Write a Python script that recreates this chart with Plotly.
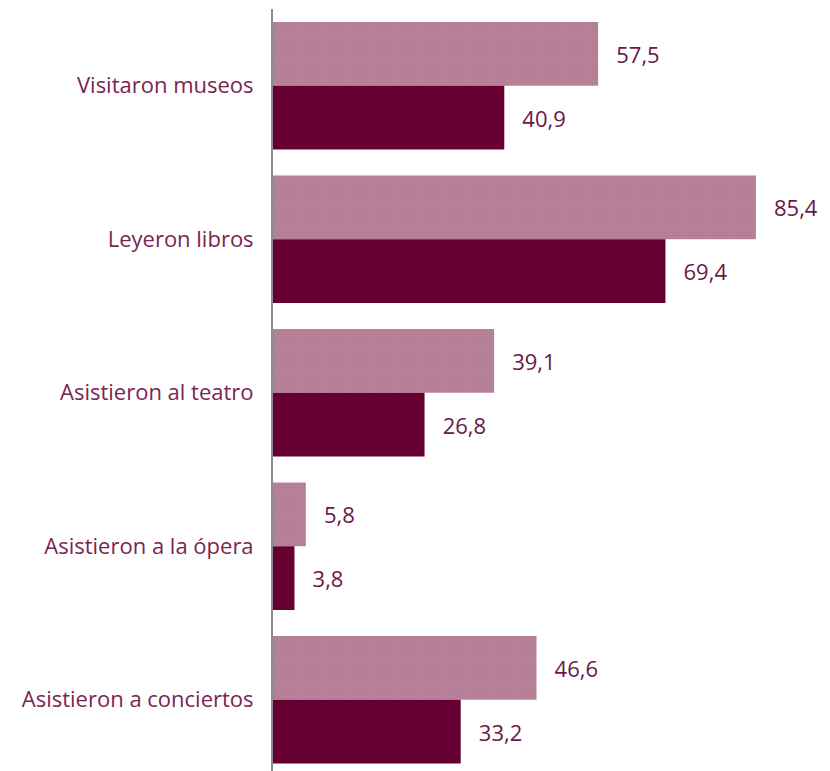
import plotly.graph_objects as go

categories = ["Visitaron museos", "Leyeron libros", "Asistieron al teatro",
              "Asistieron a la ópera", "Asistieron a conciertos"]
serie_clara = [57.5, 85.4, 39.1, 5.8, 46.6]
serie_oscura = [40.9, 69.4, 26.8, 3.8, 33.2]

label_color = "#7a2552"
value_color = "#6b1848"
font_family = "'Open Sans', Lato, sans-serif"

fig = go.Figure()
fig.add_trace(go.Bar(
  y=categories, x=serie_clara, orientation="h",
  marker=dict(color="#b8839c", line=dict(width=0),
              pattern=dict(shape=".", fgcolor="#a66f88", size=3, solidity=0.4)),
  texttemplate="\u00a0\u00a0\u2009%{x:.1f}", textposition="outside",
  textfont=dict(color=value_color, size=22, family=font_family),
  cliponaxis=False, showlegend=False,
))
fig.add_trace(go.Bar(
  y=categories, x=serie_oscura, orientation="h",
  marker=dict(color="#660033", line=dict(width=0)),
  texttemplate="\u00a0\u00a0\u2009%{x:.1f}", textposition="outside",
  textfont=dict(color=value_color, size=22, family=font_family),
  cliponaxis=False, showlegend=False,
))

fig.update_layout(
  width=830, height=771,
  margin=dict(l=265, r=8, t=1, b=8, autoexpand=False),
  barmode="group", bargap=0.17, bargroupgap=0,
  separators=",.",
  plot_bgcolor="white", paper_bgcolor="white",
  xaxis=dict(range=[0, 98.5], visible=False, showgrid=False, zeroline=False),
  yaxis=dict(range=[4.464, -0.5], showline=True, linecolor="#8c8c8c", linewidth=2,
             showgrid=False, zeroline=False, ticks="", ticklabelstandoff=13,
             tickfont=dict(color=label_color, size=22, family=font_family)),
)

fig.write_html("out.html")
